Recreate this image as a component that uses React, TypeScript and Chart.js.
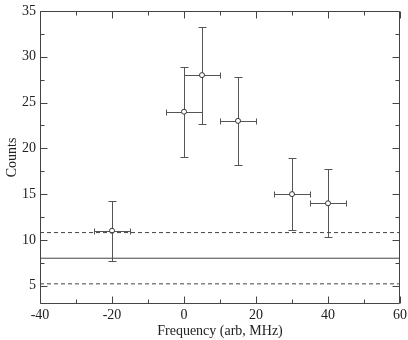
import React, { useEffect, useRef } from "react";
import { Chart, registerables } from "chart.js";

Chart.register(...registerables);

const xValues = [-20, 0, 5, 15, 30, 40];
const counts = [11, 24, 28, 23, 15, 14];
const yErrors = [3.3, 4.9, 5.3, 4.8, 3.9, 3.7];
const xErrors = [5, 5, 5, 5, 5, 5];
const xRange = [-40, 60];
const yRange = [3, 35];
const meanLevel = 8;
const upperLevel = 10.8;
const lowerLevel = 5.2;
const xTickValues = [-40, -20, 0, 20, 40, 60];
const xMinorValues = [-30, -10, 10, 30, 50];
const yTickValues = [5, 10, 15, 20, 25, 30, 35];
const yMinorValues = [7.5, 12.5, 17.5, 22.5, 27.5, 32.5];

const LINE = "#444";
const FONT = "'Liberation Serif', 'Times New Roman', serif";

const errorBarPlugin = {
  id: "errorBars",
  beforeDatasetsDraw(chart: any) {
    const { ctx, scales } = chart;
    const xs = scales.x, ys = scales.y;
    ctx.save();
    ctx.strokeStyle = "#555";
    ctx.lineWidth = 1;
    xValues.forEach((xv, i) => {
      const px = Math.round(xs.getPixelForValue(xv)) + 0.5;
      const py = Math.round(ys.getPixelForValue(counts[i])) + 0.5;
      const yTop = Math.round(ys.getPixelForValue(counts[i] + yErrors[i])) + 0.5;
      const yBot = Math.round(ys.getPixelForValue(counts[i] - yErrors[i])) + 0.5;
      const xL = Math.round(xs.getPixelForValue(xv - xErrors[i])) + 0.5;
      const xR = Math.round(xs.getPixelForValue(xv + xErrors[i])) + 0.5;
      ctx.beginPath();
      ctx.moveTo(px, yTop); ctx.lineTo(px, yBot);
      ctx.moveTo(px - 4, yTop); ctx.lineTo(px + 4, yTop);
      ctx.moveTo(px - 4, yBot); ctx.lineTo(px + 4, yBot);
      ctx.moveTo(xL, py); ctx.lineTo(xR, py);
      ctx.moveTo(xL, py - 3); ctx.lineTo(xL, py + 3);
      ctx.moveTo(xR, py - 3); ctx.lineTo(xR, py + 3);
      ctx.stroke();
    });
    ctx.restore();
  },
};

const framePlugin = {
  id: "frameTicks",
  afterDraw(chart: any) {
    const { ctx, chartArea: a, scales } = chart;
    const xs = scales.x, ys = scales.y;
    ctx.save();
    ctx.strokeStyle = LINE;
    ctx.lineWidth = 1;
    const L = Math.round(a.left) + 0.5, R = Math.round(a.right) - 0.5;
    const T = Math.round(a.top) + 0.5, B = Math.round(a.bottom) - 0.5;
    ctx.beginPath();
    ctx.rect(L, T, R - L, B - T);
    const xt = (v: number, len: number) => {
      const p = Math.round(xs.getPixelForValue(v)) + 0.5;
      ctx.moveTo(p, B); ctx.lineTo(p, B - len);
      ctx.moveTo(p, T); ctx.lineTo(p, T + len);
    };
    const yt = (v: number, len: number) => {
      const p = Math.round(ys.getPixelForValue(v)) + 0.5;
      ctx.moveTo(L, p); ctx.lineTo(L + len, p);
      ctx.moveTo(R, p); ctx.lineTo(R - len, p);
    };
    xTickValues.forEach((v) => xt(v, 7));
    xMinorValues.forEach((v) => xt(v, 4));
    yTickValues.forEach((v) => yt(v, 7));
    yMinorValues.forEach((v) => yt(v, 4));
    ctx.stroke();
    ctx.restore();
  },
};

const hLine = (y: number) => [
  { x: xRange[0], y },
  { x: xRange[1], y },
];

export default function App() {
  const ref = useRef<HTMLCanvasElement>(null);
  useEffect(() => {
    if (!ref.current) return;
    const chart = new Chart(ref.current, {
      type: "scatter",
      data: {
        datasets: [
          {
            type: "line",
            data: hLine(meanLevel),
            borderColor: LINE,
            borderWidth: 1,
            pointRadius: 0,
          },
          {
            type: "line",
            data: hLine(upperLevel),
            borderColor: LINE,
            borderWidth: 1,
            borderDash: [4, 3],
            pointRadius: 0,
          },
          {
            type: "line",
            data: hLine(lowerLevel),
            borderColor: LINE,
            borderWidth: 1,
            borderDash: [4, 3],
            pointRadius: 0,
          },
          {
            data: xValues.map((x, i) => ({ x, y: counts[i] })),
            pointRadius: 2.5,
            pointBackgroundColor: "#fff",
            pointBorderColor: "#333",
            pointBorderWidth: 1,
          },
        ],
      },
      options: {
        animation: false,
        responsive: false,
        layout: { padding: { top: 11, right: 8, left: 0, bottom: 0 } },
        plugins: { legend: { display: false }, tooltip: { enabled: false } },
        scales: {
          x: {
            type: "linear",
            min: xRange[0],
            max: xRange[1],
            grid: { display: false, drawTicks: false },
            border: { display: false },
            ticks: { padding: 3, color: "#222", font: { family: FONT, size: 14 } },
            title: {
              display: true,
              text: "Frequency (arb, MHz)",
              color: "#222",
              font: { family: FONT, size: 14 },
              padding: { top: 0, bottom: 0 },
            },
            afterBuildTicks: (s: any) => {
              s.ticks = xTickValues.map((value) => ({ value }));
            },
            afterFit: (s: any) => {
              s.height = 36;
              s.paddingLeft = 0;
              s.paddingRight = 0;
            },
          },
          y: {
            type: "linear",
            min: yRange[0],
            max: yRange[1],
            grid: { display: false, drawTicks: false },
            border: { display: false },
            ticks: { padding: 4, color: "#222", font: { family: FONT, size: 14 } },
            title: {
              display: true,
              text: "Counts",
              color: "#222",
              font: { family: FONT, size: 14 },
              padding: { top: 4, bottom: 0 },
            },
            afterBuildTicks: (s: any) => {
              s.ticks = yTickValues.map((value) => ({ value }));
            },
            afterFit: (s: any) => {
              s.width = 40;
              s.paddingTop = 0;
              s.paddingBottom = 0;
            },
          },
        },
      },
      plugins: [errorBarPlugin, framePlugin],
    } as any);
    return () => chart.destroy();
  }, []);
  return (
    <canvas
      ref={ref}
      width={408}
      height={340}
      style={{ position: "fixed", left: 0, top: 0, display: "block" }}
    />
  );
}
